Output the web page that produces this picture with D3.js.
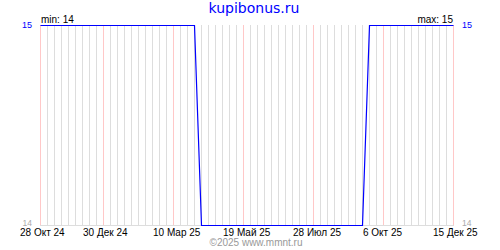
<!DOCTYPE html>
<html><head><meta charset="utf-8">
<script src="https://cdn.jsdelivr.net/npm/d3@7"></script>
<style>body{margin:0;background:#fff}svg{display:block}text{font-family:"Liberation Sans",Arial,sans-serif}</style>
</head><body>
<svg id="c" width="500" height="250"></svg>
<script>
const title = "kupibonus.ru";
const pointDates = ["2024-10-28","2025-03-31","2025-04-07","2025-09-15","2025-09-22","2025-12-15"];
const pointValues = [15,15,14,14,15,15];
const tickDates = ["2024-10-28","2024-12-30","2025-03-10","2025-05-19","2025-07-28","2025-10-06","2025-12-15"];
const tickLabels = ["28 Окт 24","30 Дек 24","10 Мар 25","19 Май 25","28 Июл 25","6 Окт 25","15 Дек 25"];
const yMin = 14, yMax = 15;
const minLabel = "min: 14", maxLabel = "max: 15";
const copyright = "©2025 www.mmnt.ru";

const p = d3.utcParse("%Y-%m-%d");
const svg = d3.select("#c");
const x = d3.scaleUtc().domain([p(pointDates[0]), p(pointDates[pointDates.length-1])]).range([40,453]);
const y = d3.scaleLinear().domain([yMin,yMax]).range([225,25]);

// weekly grid
const weeks = d3.utcMonday.range(x.domain()[0], d3.utcDay.offset(x.domain()[1],1));
svg.append("g").selectAll("line").data(weeks).join("line")
  .attr("x1",d=>Math.round(x(d))+0.5).attr("x2",d=>Math.round(x(d))+0.5)
  .attr("y1",y(yMax)).attr("y2",y(yMin))
  .attr("stroke","#dddddd").attr("stroke-width",1);
// major grid
svg.append("g").selectAll("line").data(tickDates.map(p)).join("line")
  .attr("x1",d=>Math.round(x(d))+0.5).attr("x2",d=>Math.round(x(d))+0.5)
  .attr("y1",y(yMax)).attr("y2",y(yMin))
  .attr("stroke","#ffc8c8").attr("stroke-width",1);
// bottom axis line
svg.append("line").attr("x1",40).attr("x2",454).attr("y1",y(yMin)+0.5).attr("y2",y(yMin)+0.5)
  .attr("stroke","#dddddd");

// data line
const data = pointDates.map((d,i)=>({d:p(d),v:pointValues[i]}));
svg.append("path").datum(data)
  .attr("d", d3.line().x(d=>x(d.d)+0.5).y(d=>y(d.v)+0.5))
  .attr("fill","none").attr("stroke","#0000ff").attr("stroke-width",1.2);

// title
svg.append("text").attr("x",254).attr("y",12.5).attr("text-anchor","middle")
  .attr("fill","#0000ff").attr("font-size",14).style("font-family","'DejaVu Sans',Verdana,sans-serif").text(title);
// min / max
svg.append("text").attr("x",41).attr("y",23).attr("font-size",10).attr("fill","#000").text(minLabel);
svg.append("text").attr("x",453).attr("y",23).attr("text-anchor","end").attr("font-size",10).attr("fill","#000").text(maxLabel);
// y labels
svg.append("text").attr("x",32).attr("y",y(yMax)+3).attr("text-anchor","end").attr("font-size",9).attr("fill","#0000ff").text(yMax);
svg.append("text").attr("x",462).attr("y",y(yMax)+3).attr("font-size",9).attr("fill","#0000ff").text(yMax);
svg.append("text").attr("x",32).attr("y",y(yMin)+1).attr("text-anchor","end").attr("font-size",8.5).attr("fill","#aaaaaa").text(yMin);
svg.append("text").attr("x",462).attr("y",y(yMin)+1).attr("font-size",8.5).attr("fill","#aaaaaa").text(yMin);
// x labels
svg.append("g").selectAll("text").data(tickDates).join("text")
  .attr("x",d=>Math.round(x(p(d)))-20).attr("y",236)
  .attr("font-size",10).attr("fill","#000").text((d,i)=>tickLabels[i]);
// copyright
svg.append("text").attr("x",256).attr("y",246).attr("text-anchor","middle")
  .attr("font-size",10).attr("fill","#999999").text(copyright);
</script>
</body></html>
